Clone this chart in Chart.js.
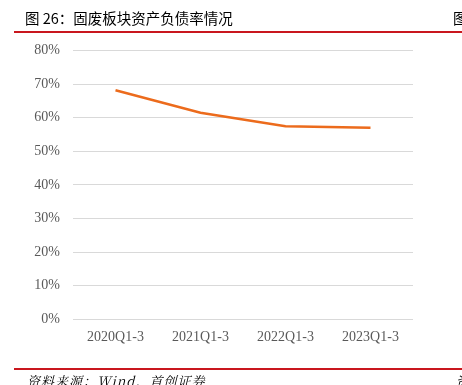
<!DOCTYPE html>
<html>
<head>
<meta charset="utf-8">
<script src="https://cdn.jsdelivr.net/npm/chart.js@4"></script>
<style>
  html, body { margin: 0; padding: 0; background: #fff; overflow: hidden; }
  #wrap { position: relative; width: 462px; height: 385px; }
  #chart { position: absolute; left: 0; top: 0; }
  .title { position: absolute; left: 25px; top: 7px; font: 14.5px "Noto Sans CJK SC", sans-serif; color: #000; white-space: nowrap; }
  .title2 { position: absolute; left: 453px; top: 7px; font: 14.5px "Noto Sans CJK SC", sans-serif; color: #000; }
  .rule { position: absolute; left: 14px; width: 448px; height: 2px; background: #c9171e; }
  .source { position: absolute; left: 27px; top: 371px; font: italic 13px "Noto Serif CJK SC", "Noto Sans CJK SC", serif; color: #000; letter-spacing: 1px; white-space: nowrap; }
  .source2 { position: absolute; left: 456px; top: 371px; font: italic 13px "Noto Sans CJK SC", serif; color: #000; }
</style>
</head>
<body>
<div id="wrap">
  <canvas id="chart" width="462" height="385"></canvas>
  <div class="title">图 26：固废板块资产负债率情况</div>
  <div class="title2">图</div>
  <div class="rule" style="top:31px"></div>
  <div class="rule" style="top:368px"></div>
  <div class="source">资料来源：Wind，首创证券</div>
  <div class="source2">资</div>
</div>
<script>
const periods = ['2020Q1-3', '2021Q1-3', '2022Q1-3', '2023Q1-3']
const debtRatio = [68.2, 61.5, 57.5, 57.0]
const yMin = 0
const yMax = 80
const yStep = 10

let ctx = document.getElementById('chart')

const ratioChart = new Chart(ctx, {
    type: 'line',
    data: {
        labels: periods,
        datasets: [{
            label: '资产负债率',
            data: debtRatio,
            borderColor: '#ec6b1c',
            borderWidth: 2.5,
            pointRadius: 0,
            tension: 0
        }]
    },
    options: {
        responsive: false,
        animation: false,
        layout: {
            padding: { left: 14, top: 50.6, right: 49, bottom: 37 }
        },
        plugins: {
            legend: { display: false },
            tooltip: { enabled: false }
        },
        scales: {
            x: {
                offset: true,
                grid: { display: false },
                border: { display: false },
                ticks: {
                    color: '#595959',
                    padding: 2,
                    maxRotation: 0,
                    font: { family: 'Liberation Serif', size: 14 }
                }
            },
            y: {
                min: yMin,
                max: yMax,
                afterFit: (scale) => { scale.width = 59 },
                grid: { color: '#d9d9d9', lineWidth: 1, drawTicks: false },
                border: { display: false },
                ticks: {
                    stepSize: yStep,
                    color: '#595959',
                    padding: 13,
                    font: { family: 'Liberation Serif', size: 14 },
                    callback: (v) => v + '%'
                }
            }
        }
    }
})
</script>
</body>
</html>
